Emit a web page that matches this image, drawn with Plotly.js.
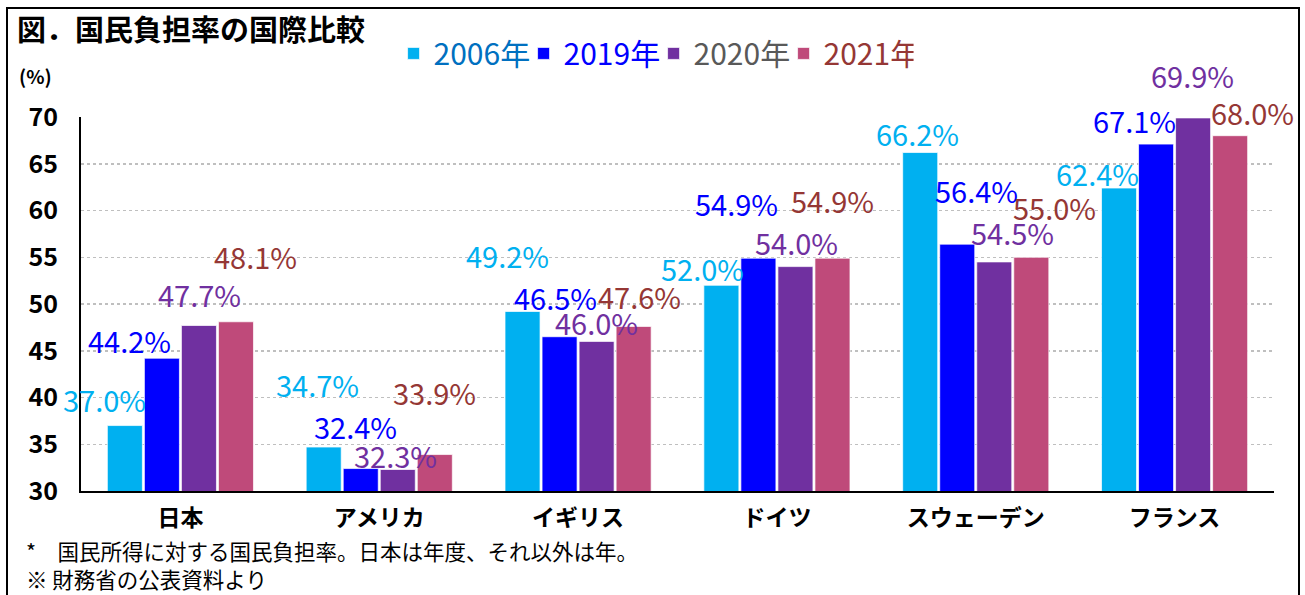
<!DOCTYPE html>
<html>
<head>
<meta charset="utf-8">
<script src="https://cdn.plot.ly/plotly-3.0.1.min.js"></script>
<style>
  html, body { margin: 0; padding: 0; background: #fff; }
  #chart { width: 1305px; height: 595px; position: absolute; left: 0; top: 0; }
  #frame { position: absolute; left: 6px; top: 7px; width: 1294px; height: 600px; border: 2px solid #000; box-sizing: border-box; pointer-events: none; }
</style>
</head>
<body>
<div id="chart"></div>
<div id="frame"></div>
<script>
// ---- data ----
const countries = ['日本', 'アメリカ', 'イギリス', 'ドイツ', 'スウェーデン', 'フランス'];
const seriesNames = ['2006年', '2019年', '2020年', '2021年'];
const v2006 = [37.0, 34.7, 49.2, 52.0, 66.2, 62.4];
const v2019 = [44.2, 32.4, 46.5, 54.9, 56.4, 67.1];
const v2020 = [47.7, 32.3, 46.0, 54.0, 54.5, 69.9];
const v2021 = [48.1, 33.9, 47.6, 54.9, 55.0, 68.0];
const yTicks = [30, 35, 40, 45, 50, 55, 60, 65, 70];
const footnote1 = '*　国民所得に対する国民負担率。日本は年度、それ以外は年。';
const footnote2 = '※ 財務省の公表資料より';

// ---- styles ----
const barColors = ['#00B0F0', '#0000FF', '#7030A0', '#BF4A7A'];
const labelColors = ['#00B0F0', '#0000FF', '#7030A0', '#953735'];
const legendTextColors = ['#0070C0', '#0000FF', '#595959', '#953735'];
// label pixel offsets (dx, dy from bar top centre), as placed in the original
const labelDx = [
  [-20, -6, -15, -19, -3, -22],
  [-32, -5, -4, -22, 19, -22],
  [1, -2, 0, 1, 18, -1],
  [20, 0, 6, 0, 23, 22]
];
const labelDy = [
  [27, 63, 56, 17, 20, 15],
  [18, 43, 40, 55, 54, 24],
  [32, 15, 19, 25, 30, 43],
  [66, 63, 30, 58, 50, 24]
];

const CJK = '"Noto Sans CJK JP", "Noto Sans", sans-serif';

const allVals = [v2006, v2019, v2020, v2021];
const bargap = 0.255;
const bargroupgap = 0.054;

const traces = allVals.map((vals, j) => ({
  type: 'bar',
  name: '<span style="color:' + legendTextColors[j] + '">' + seriesNames[j] + '</span>',
  x: countries,
  y: vals,
  marker: { color: barColors[j], line: { color: 'rgba(255,255,255,0.7)', width: 1 } },
  hoverinfo: 'x+y'
}));

const annotations = [];
const slot = (1 - bargap) / allVals.length;
allVals.forEach((vals, j) => {
  vals.forEach((v, i) => {
    annotations.push({
      xref: 'x', yref: 'y',
      x: i + (j - (allVals.length - 1) / 2) * slot,
      y: v,
      text: v.toFixed(1) + '%',
      showarrow: false,
      xanchor: 'center', yanchor: 'middle',
      xshift: labelDx[j][i], yshift: labelDy[j][i],
      font: { family: CJK, size: 29, color: labelColors[j] }
    });
  });
});

annotations.push({
  xref: 'paper', yref: 'paper', x: -0.054, y: 1.11,
  xanchor: 'left', yanchor: 'middle', showarrow: false,
  text: '(%)', font: { family: CJK, size: 19, color: '#000', weight: 'bold' }
});
annotations.push({
  xref: 'paper', yref: 'paper', x: -0.048, y: -0.158,
  xanchor: 'left', yanchor: 'middle', showarrow: false,
  text: footnote1, font: { family: CJK, size: 21.5, color: '#000' }
});
annotations.push({
  xref: 'paper', yref: 'paper', x: -0.048, y: -0.233,
  xanchor: 'left', yanchor: 'middle', showarrow: false,
  text: footnote2, font: { family: CJK, size: 21.5, color: '#000' }
});

const layout = {
  width: 1305, height: 595,
  margin: { l: 81, r: 31, t: 117, b: 104 },
  paper_bgcolor: '#fff', plot_bgcolor: '#fff',
  title: {
    text: '図．国民負担率の国際比較',
    x: 0.013, xanchor: 'left', xref: 'container',
    y: 0.948, yanchor: 'middle', yref: 'container',
    font: { family: CJK, size: 29, color: '#000', weight: 'bold' }
  },
  barmode: 'group', bargap: bargap, bargroupgap: bargroupgap,
  showlegend: true,
  legend: {
    orientation: 'h', x: 0.262, xanchor: 'left', y: 1.17, yanchor: 'middle',
    font: { family: CJK, size: 30 }, bgcolor: 'rgba(0,0,0,0)', borderwidth: 0,
    itemwidth: 30, entrywidth: 85, entrywidthmode: 'pixels', traceorder: 'normal'
  },
  xaxis: {
    type: 'category', range: [-0.5, countries.length - 0.5], autorange: false,
    showline: true, linecolor: '#000', linewidth: 2,
    ticks: '', ticklabelstandoff: 5,
    tickfont: { family: CJK, size: 23, color: '#000', weight: 'bold' },
    showgrid: false, fixedrange: true
  },
  yaxis: {
    range: [30, 70], autorange: false, tickvals: yTicks, ticktext: yTicks.map(String),
    showline: true, linecolor: '#000', linewidth: 2,
    ticks: '', ticklabelstandoff: 16,
    tickfont: { family: CJK, size: 25, color: '#000', weight: 'bold' },
    showgrid: true, gridcolor: '#BFBFBF', gridwidth: 1.5, griddash: 'dot',
    zeroline: false, fixedrange: true
  },
  annotations: annotations
};

Plotly.newPlot('chart', traces, layout, { displayModeBar: false, staticPlot: true });
</script>
</body>
</html>
